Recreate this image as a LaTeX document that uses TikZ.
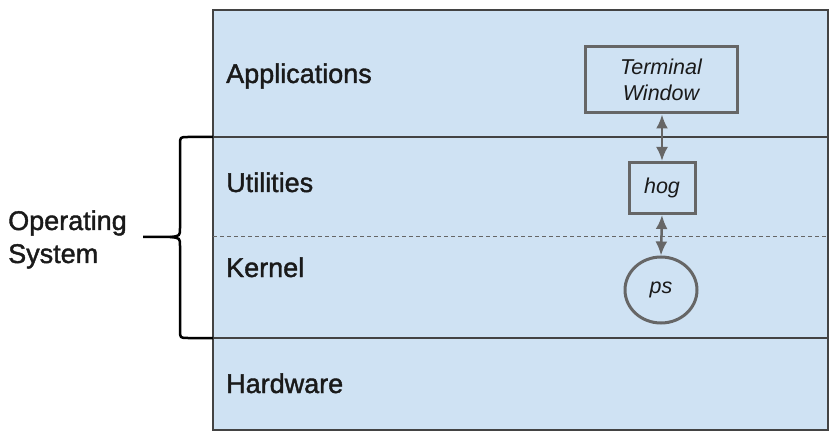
\documentclass[tikz,border=0pt]{standalone}
\usepackage{fontspec}
\setmainfont{Liberation Sans}
\newfontfamily\medfont[FakeBold=1.5]{Liberation Sans}
\usetikzlibrary{arrows.meta,shapes.geometric}
\definecolor{layerfill}{HTML}{CFE2F3}
\definecolor{edge}{HTML}{434343}
\definecolor{gr}{HTML}{666666}
\definecolor{txt}{HTML}{1A1A1A}
\tikzset{
  layerlabel/.style={anchor=base west, inner sep=0pt, text=txt, font=\medfont\fontsize{27}{32}\selectfont},
  procbox/.style={draw=gr, line width=3pt, fill=layerfill, text=txt, font=\fontsize{21.5}{26}\selectfont\itshape, align=center, inner sep=0pt},
  link/.style={draw=gr, line width=2.5pt, >={Latex[length=14pt,width=12pt]}, <->},
}
\begin{document}
\begin{tikzpicture}[x=1pt,y=-1pt]
\useasboundingbox (0,0) rectangle (835,438);
\fill[layerfill] (213,10) rectangle (828,430);
\draw[edge, line width=1.2pt] (213,10) rectangle (828,430);
\draw[edge, line width=1.2pt] (213,137) -- (828,137);
\draw[edge, line width=1.2pt] (213,338) -- (828,338);
\draw[gr, line width=1pt, dash pattern=on 4pt off 3pt] (213,237) -- (828,237);

\node[layerlabel] (apps) at (226,83) {Applications};
\node[layerlabel] (util) at (226,192) {Utilities};
\node[layerlabel] (kern) at (226,277) {Kernel};
\node[layerlabel] (hw) at (226,393) {Hardware};

\node[anchor=base west, align=left, inner sep=0pt, text=txt, font=\medfont\fontsize{27}{33}\selectfont] (os) at (8,263) {Operating\\System};

\draw[black, line width=2.5pt, line join=round]
  (213,137) -- (188,137) .. controls (180,137) .. (180,145) -- (180,228)
  .. controls (180,236) .. (170,237) -- (143,237);
\draw[black, line width=2.5pt, line join=round]
  (213,338) -- (188,338) .. controls (180,338) .. (180,330) -- (180,246)
  .. controls (180,238) .. (170,237);

\node[procbox, minimum width=152pt, minimum height=66pt] (term) at (661,80) {Terminal\\Window};
\node[procbox, minimum width=66pt, minimum height=51pt] (hog) at (662,188) {hog};
\node[procbox, ellipse, minimum width=72pt, minimum height=66pt] (ps) at (661,290) {ps};

\draw[link] (term.south -| hog.north) -- (hog.north);
\draw[link] (hog.south) -- (ps.north);
\end{tikzpicture}
\end{document}
